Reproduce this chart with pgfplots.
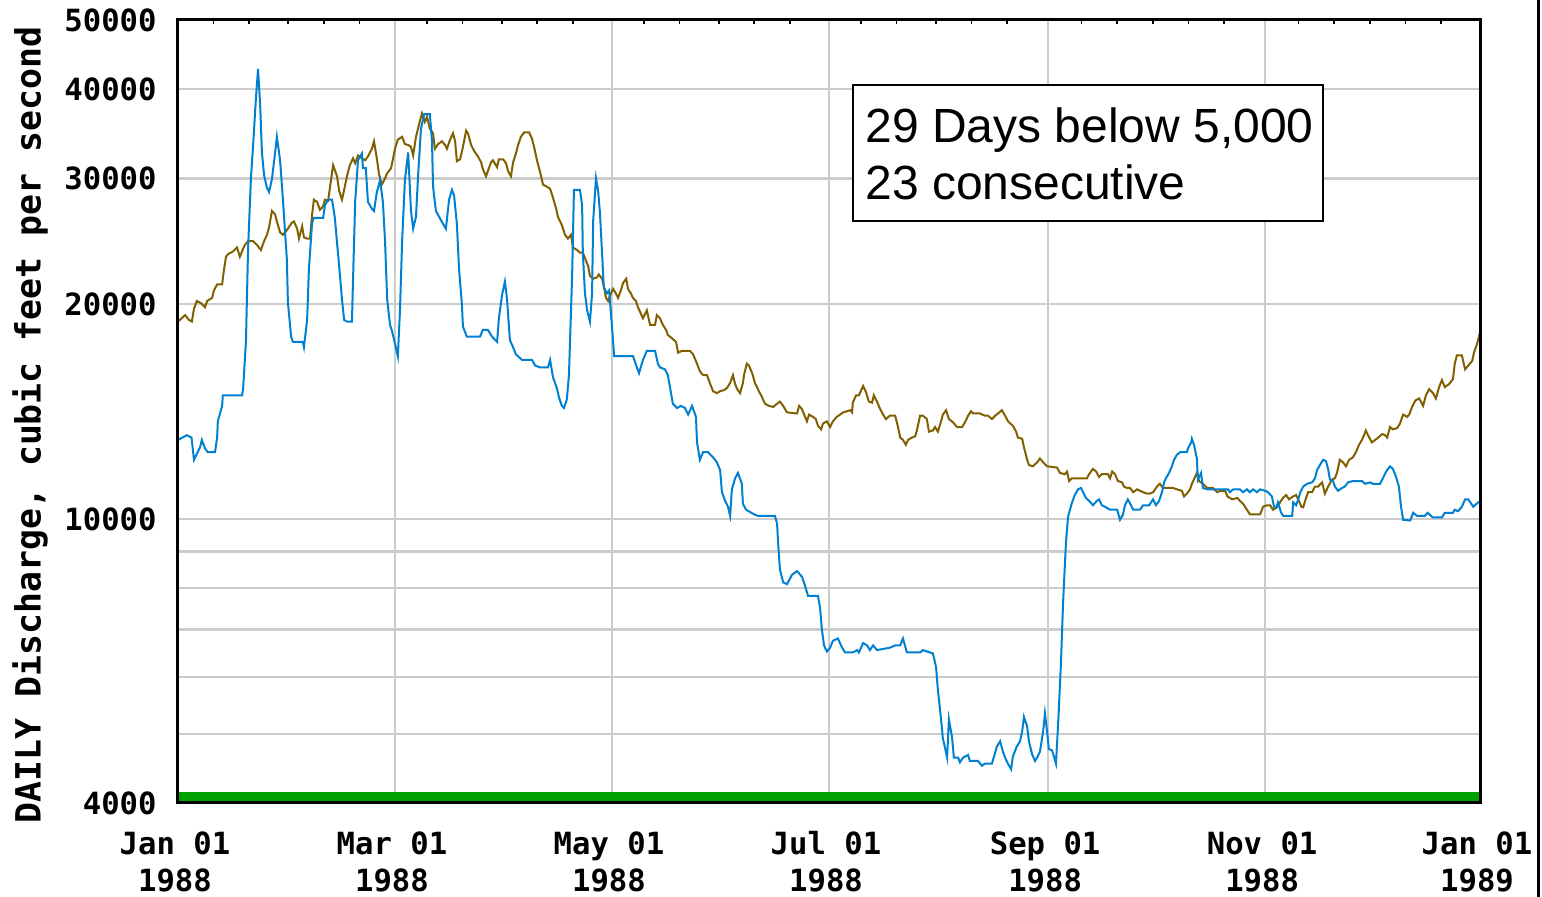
\documentclass[border=0pt]{standalone}
\usepackage{fontspec}
\setmainfont{Liberation Sans}
\newfontfamily\tickfont{DejaVu Sans Mono}
\usepackage{pgfplots}
\pgfplotsset{compat=1.18}
\usepackage{pgfplotstable}

\definecolor{flowblue}{RGB}{0,128,208}
\definecolor{meanbrown}{RGB}{128,96,0}
\definecolor{bargreen}{RGB}{0,160,0}
\definecolor{gridgray}{RGB}{204,204,204}

% daily discharge 1988 (day of year, cfs)
\pgfplotstableread{
day q
0.0 12900
2.5 13100
3.8 13000
4.5 12100
6.2 12600
6.7 12900
7.6 12550
8.4 12400
10.4 12400
11.0 13000
11.2 13700
12.4 14400
12.6 14900
18.0 14900
18.3 15200
19.1 17700
19.7 23900
20.5 30000
21.1 33300
21.9 38800
22.5 42700
23.1 38000
23.6 32600
24.2 30300
25.0 29100
25.6 28700
26.4 29900
27.3 32600
27.8 34300
28.7 31800
29.5 28000
30.1 25200
30.6 23100
30.9 20100
31.8 18000
32.3 17700
35.1 17700
35.4 17400
36.3 19000
36.8 22400
37.7 26000
38.2 26400
40.8 26400
41.3 27500
42.2 28000
43.3 28000
44.1 26400
44.7 24400
45.3 22600
46.1 20300
46.7 19000
47.5 18900
48.9 18900
49.2 21600
49.8 27800
50.6 31800
51.7 32500
52.0 31000
52.8 31000
53.4 27800
54.5 27200
55.1 27000
55.9 28700
56.8 29800
57.6 27800
58.2 24500
58.8 20300
59.6 18700
60.2 18300
61.0 17600
61.8 16900
62.4 19600
63.0 24500
63.8 29900
64.7 32600
65.5 27000
66.1 25500
66.9 26500
67.5 30300
68.3 35200
69.2 36900
70.8 36900
71.4 33800
71.7 29200
72.5 27000
73.4 26500
74.5 25900
75.3 25500
76.2 28000
77.0 28900
77.6 28400
78.4 25900
79.0 22400
79.8 20000
80.1 18600
81.2 18000
84.9 18000
85.7 18400
87.1 18400
88.3 18000
89.7 17700
90.2 19100
91.1 20600
91.9 21500
92.5 20300
93.3 17800
94.2 17400
95.0 17000
96.7 16700
99.5 16700
100.4 16400
101.8 16300
104.0 16300
104.6 16700
105.4 15800
106.5 15250
107.1 14800
107.9 14400
108.5 14300
109.3 14700
109.9 15900
110.8 22000
111.3 28900
113.0 28900
113.6 27500
113.8 23600
114.4 20700
115.0 19600
115.8 18900
116.4 20700
116.7 26100
117.5 30000
118.1 28800
118.6 26900
119.2 23600
119.7 21100
120.6 20700
121.2 20900
122.0 18600
122.6 16900
127.9 16900
129.0 16300
129.6 16000
130.7 16700
131.8 17200
134.1 17200
134.9 16500
135.5 16300
136.9 16200
137.7 15900
138.6 15000
139.1 14500
140.3 14300
141.4 14400
142.5 14300
143.4 14000
144.5 14400
145.6 13900
145.9 12800
146.7 12100
147.6 12400
149.0 12400
150.4 12200
151.5 12000
152.4 11700
152.9 10900
153.8 10600
154.6 10400
155.2 10100
155.7 11000
156.6 11400
157.4 11600
158.5 11200
158.8 10500
159.7 10300
161.9 10150
163.0 10100
167.8 10100
168.4 9850
168.7 9250
169.2 8500
170.1 8150
171.2 8100
172.6 8350
174.0 8450
175.4 8300
176.2 8080
177.1 7800
179.9 7800
180.5 7500
181.0 7000
181.6 6650
182.4 6520
183.3 6600
184.1 6750
185.5 6800
186.7 6600
187.5 6500
189.7 6500
190.9 6550
191.4 6500
192.6 6700
193.7 6650
194.5 6550
195.4 6650
196.5 6550
200.1 6600
201.6 6650
203.0 6650
203.8 6800
204.9 6500
208.6 6500
209.4 6550
211.4 6500
212.2 6480
213.1 6200
213.6 5770
214.5 5240
215.0 4930
215.6 4780
216.2 4630
216.7 5240
217.6 4940
218.1 4630
219.3 4630
219.8 4560
220.7 4630
222.1 4670
222.6 4580
224.9 4580
226.0 4510
226.8 4540
228.8 4540
229.4 4650
230.2 4800
231.1 4880
231.9 4720
232.5 4630
233.3 4540
234.2 4460
234.7 4650
235.8 4800
236.7 4880
237.3 5040
237.8 5280
238.7 5120
239.2 4880
240.1 4680
240.9 4580
241.5 4630
242.3 4720
243.2 5040
243.7 5340
244.3 5040
244.8 4760
245.7 4740
246.2 4650
246.8 4540
247.4 5150
248.2 6270
248.8 7630
249.6 9250
250.2 10070
251.3 10540
252.1 10800
253.0 11000
253.8 11050
254.4 10900
255.2 10700
256.1 10600
257.2 10450
258.3 10600
258.9 10650
259.7 10450
260.6 10400
262.0 10300
264.0 10300
264.8 9970
265.6 10130
266.2 10450
267.0 10650
267.9 10450
268.5 10300
270.4 10300
271.3 10450
273.0 10450
274.1 10650
274.9 10450
275.8 10600
276.6 10900
277.2 11250
277.7 11400
278.6 11600
279.4 11850
280.0 12100
280.8 12300
281.7 12400
283.6 12400
283.9 12550
284.8 12800
285.0 12950
285.6 12700
286.4 12150
286.7 11350
287.6 11600
288.1 11050
289.3 11000
295.2 11000
295.7 10900
296.6 11000
298.5 11000
299.4 10900
300.5 11000
301.3 10900
302.2 11000
303.3 10900
304.2 11000
305.6 10950
306.4 10900
307.5 10750
308.1 10400
308.7 10380
309.2 10550
310.1 10200
310.7 10100
313.2 10100
313.5 10550
314.3 10450
314.9 10650
315.5 10900
316.3 11100
317.4 11200
318.8 11250
319.6 11400
320.2 11700
321.0 11900
321.9 12100
322.7 12050
323.3 11750
323.8 11350
324.7 11300
325.2 11100
326.1 10950
327.2 11050
328.0 11100
328.9 11250
330.3 11300
332.8 11300
333.7 11200
335.1 11250
335.9 11200
337.9 11200
338.7 11400
339.6 11650
340.7 11850
341.5 11750
342.4 11450
343.2 11100
343.8 10400
344.4 9970
346.4 9950
347.2 10200
348.3 10100
350.5 10100
351.3 10200
352.7 10050
355.3 10050
356.1 10200
358.4 10200
358.9 10300
359.8 10250
360.9 10400
361.8 10650
362.7 10650
364.1 10400
365.5 10550
366.0 10550
}\dailyflow

% second series (brown)
\pgfplotstableread{
day q
0.0 18900
2.0 19300
3.1 19000
3.9 18900
4.5 19700
5.3 20200
6.5 20050
7.6 19800
8.2 20200
9.6 20400
10.1 20900
11.0 21300
12.4 21300
12.9 22300
13.5 23300
14.1 23500
15.5 23700
16.6 24000
17.4 23300
18.3 23900
18.8 24200
19.7 24500
21.1 24500
22.2 24200
23.3 23800
24.2 24500
25.0 25000
25.6 25600
26.4 27000
27.3 26700
27.8 26100
28.7 25200
29.5 25000
30.1 25200
30.9 25500
32.0 26000
32.6 26100
33.5 25500
34.0 24700
34.9 25700
35.4 24800
36.3 24700
37.1 24700
37.7 26700
38.2 28000
39.1 27800
39.9 27100
40.8 27400
41.3 28000
42.2 27900
43.0 29800
43.6 31300
44.7 30200
45.3 28800
46.1 28000
46.7 28900
47.5 30200
48.3 31300
49.2 32000
49.8 31500
50.6 32300
51.7 32000
52.6 31800
53.4 32200
54.5 33000
55.1 33800
55.9 32000
56.5 30400
57.3 29400
58.2 30000
58.8 30500
59.9 31000
61.0 33000
61.8 34000
63.0 34300
63.8 33500
64.7 33400
65.5 33200
66.1 32300
66.9 34300
67.7 35600
68.6 37000
69.4 36000
70.0 36600
70.8 35200
71.7 34700
72.2 33000
73.1 33500
74.2 33800
75.1 33400
75.6 33000
76.5 34000
77.3 34700
77.9 33800
78.4 31700
79.3 31900
80.1 33200
81.0 35000
81.5 34700
82.4 33400
83.2 32800
84.3 32200
85.2 31600
85.7 30900
86.6 30200
87.1 30700
88.0 31600
88.5 31800
89.7 31100
90.2 31900
91.4 31900
92.2 31500
92.8 30700
93.6 30200
94.2 31600
95.0 32500
95.6 33400
96.4 34300
97.3 34800
98.7 34800
99.5 34100
100.1 33200
100.9 31800
101.8 30600
102.6 29400
103.7 29200
104.6 29000
105.4 28200
106.3 27200
106.8 26500
107.9 25800
108.8 25000
109.6 24700
110.5 25000
111.0 24000
112.2 23800
113.0 23600
113.8 23600
114.4 23200
115.3 22600
115.8 21900
116.7 21700
117.8 21800
118.3 22000
119.2 21700
119.7 21200
120.3 20400
120.9 20200
121.7 20700
122.3 21000
123.1 20700
123.7 20400
124.5 20900
125.1 21400
126.0 21700
126.5 21000
127.3 20700
127.9 20400
128.7 20200
129.3 19800
130.1 19400
130.7 19100
131.8 19600
132.7 18700
134.1 18700
134.6 19300
135.5 19100
136.3 18700
137.2 18400
137.7 18100
138.9 17900
140.0 17700
140.6 17100
141.7 17200
143.9 17200
144.8 17000
145.9 16500
146.7 16100
147.6 15900
148.7 15900
149.5 15500
150.4 15100
151.5 15000
152.4 15100
153.5 15150
154.3 15250
155.2 15500
156.0 15900
156.6 15450
157.2 15200
158.0 15000
158.8 15500
159.1 15900
159.9 16500
160.5 16400
161.4 16000
162.2 15500
163.3 15100
164.2 14800
165.0 14500
166.1 14400
167.3 14350
168.4 14500
169.2 14600
170.1 14400
171.2 14100
174.0 14050
174.6 14400
175.4 14250
176.0 14000
176.8 13700
177.4 14000
178.5 13900
179.3 13800
179.9 13500
180.8 13350
181.3 13600
182.4 13700
183.3 13450
184.1 13700
185.2 13900
186.1 14000
187.0 14100
189.0 14200
189.5 14100
189.7 14550
190.6 14900
191.4 14900
192.6 15350
193.4 15050
194.2 14600
195.1 14550
195.6 14900
196.5 14600
197.1 14350
198.2 14000
199.0 13800
200.1 13950
201.6 13950
202.4 13450
203.0 13000
203.8 12900
204.6 12700
205.2 12900
206.3 13000
207.2 13050
207.7 13300
208.6 13950
209.4 13950
210.5 13800
211.1 13250
212.2 13300
212.8 13450
213.6 13250
214.5 13700
215.0 14000
215.9 14200
216.7 13800
217.9 13650
219.0 13450
220.4 13450
221.2 13650
222.1 13950
222.9 14150
223.5 14050
225.4 14050
226.8 13950
227.7 13950
228.8 13800
229.7 13950
230.5 14050
231.6 14200
232.5 13950
233.3 13700
234.7 13500
235.6 13250
236.1 13000
237.3 12950
237.8 12600
238.7 12100
239.2 11900
240.3 11850
241.5 12000
242.3 12150
243.2 12000
244.3 11850
247.1 11800
247.9 11600
249.3 11550
249.9 11650
250.5 11300
251.3 11400
255.5 11400
256.1 11550
257.2 11750
258.1 11650
258.9 11450
259.7 11550
261.4 11550
262.0 11400
262.6 11650
263.4 11550
264.2 11300
265.4 11250
265.9 11100
266.8 11050
267.6 11050
268.5 10900
269.6 11000
270.4 10950
271.3 10900
272.4 10850
273.2 10850
274.1 10900
275.2 11100
276.0 11200
276.9 11050
279.7 11050
280.8 11000
282.2 10950
282.8 10750
283.6 10850
284.5 11000
285.0 11200
285.9 11450
286.4 11600
287.0 11300
288.1 11200
289.3 11050
290.9 11050
292.1 10900
293.0 10950
294.4 10950
295.0 10750
296.4 10650
297.8 10700
298.5 10600
299.4 10500
300.5 10300
301.3 10150
304.2 10150
305.0 10400
306.1 10450
307.0 10450
307.8 10300
308.9 10380
309.8 10550
310.6 10700
311.5 10800
312.3 10650
313.4 10750
314.3 10800
314.9 10650
315.8 10400
316.3 10380
317.1 10700
317.7 10900
318.8 10900
319.6 11100
320.5 11100
321.6 11250
322.4 10850
323.3 11100
324.4 11350
325.2 11400
325.8 11600
326.6 12100
327.5 12000
328.3 11850
329.2 12100
330.3 12200
331.1 12400
332.0 12700
332.8 12900
333.4 13100
333.9 13300
334.5 13100
335.6 12800
336.5 12900
337.4 13000
338.5 13150
339.3 13100
339.9 13000
340.7 13450
341.5 13350
342.7 13400
343.5 13600
344.4 14000
345.5 13900
346.1 14000
346.9 14350
347.8 14650
348.9 14750
350.0 14400
350.8 14900
351.7 15200
352.8 15000
353.6 14750
354.5 15300
355.3 15650
356.1 15300
357.3 15450
358.4 15700
358.9 16500
359.5 16950
360.9 16950
361.8 16200
362.7 16400
363.8 16650
364.3 17100
365.2 17600
366.0 18250
}\meanflow

\begin{document}
\begin{tikzpicture}
\path[use as bounding box] (-89pt,-47pt) rectangle (682pt,401.5pt);
\begin{semilogyaxis}[
    scale only axis,
    width=651pt, height=391.5pt,
    at={(0,0)}, anchor=south west,
    xmin=0, xmax=366,
    ymin=4000, ymax=50000,
    xtick={0,61,122,183,244.6,305.6,366},
    xticklabels={{Jan 01\\1988},{Mar 01\\1988},{May 01\\1988},{Jul 01\\1988},{Sep 01\\1988},{Nov 01\\1988},{Jan 01\\1989}},
    minor xtick={10,20,31,41,51,70,80,91,101,111,131,141,152,162,172,192,202,213,223,233,254,264,274,284,294,315,325,335,345,355},
    xtick pos=right, xticklabel pos=left,
    tick align=inside,
    major tick length=0pt, minor tick length=2pt,
    minor tick style={black, line width=0.8pt},
    minor y tick num=0,
    ytick={4000,5000,6000,7000,8000,9000,10000,20000,30000,40000,50000},
    yticklabels={4000,,,,,,10000,20000,30000,40000,50000},
    ytick style={draw=none},
    xmajorgrids=true, ymajorgrids=true,
    major grid style={gridgray, line width=1.2pt},
    axis line style={black, line width=1.5pt},
    xticklabel style={font=\tickfont\bfseries\fontsize{15.3pt}{18.5pt}\selectfont, align=center, inner sep=0pt, anchor=north, yshift=-14pt, xshift=-1.5pt},
    yticklabel style={font=\tickfont\bfseries\fontsize{15.3pt}{19pt}\selectfont, inner sep=0pt, anchor=east, xshift=-10.5pt},
]
\addplot[bargreen, line width=5pt] coordinates {(0,4075) (366,4075)};
\addplot[meanbrown, line width=1pt] table[x=day, y=q] {\meanflow};
\addplot[flowblue, line width=1pt] table[x=day, y=q] {\dailyflow};
\draw[black, line width=1.5pt] (rel axis cs:0,0) rectangle (rel axis cs:1,1);
\end{semilogyaxis}
\node[rotate=90, inner sep=0pt, font=\tickfont\bfseries\fontsize{17.4pt}{20pt}\selectfont] at (-74pt,189pt) {DAILY Discharge, cubic feet per second};
\draw[black, line width=1pt, fill=white] (337.5pt,291pt) rectangle (572.5pt,359pt);
\node[anchor=base west, inner sep=0pt, font=\fontsize{24pt}{28pt}\selectfont] at (343.5pt,330pt) {29 Days below 5,000};
\node[anchor=base west, inner sep=0pt, font=\fontsize{24pt}{28pt}\selectfont] at (343.5pt,301.5pt) {23 consecutive};
\draw[black, line width=1.5pt] (680pt,-47pt) -- (680pt,401.5pt);
\end{tikzpicture}
\end{document}
